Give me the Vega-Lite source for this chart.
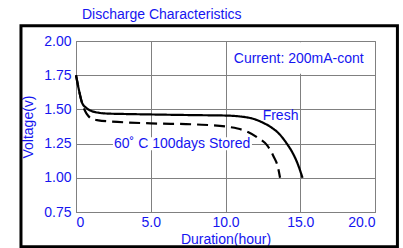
{
  "$schema": "https://vega.github.io/schema/vega-lite/v6.json",
  "autosize": "none",
  "width": 299,
  "height": 171,
  "padding": {"left": 76, "top": 41, "right": 28, "bottom": 36},
  "background": "white",
  "title": {
    "text": "Discharge Characteristics",
    "color": "#1515f0",
    "font": "Liberation Sans",
    "fontSize": 14,
    "fontWeight": "normal",
    "anchor": "start",
    "frame": "group",
    "dx": 6,
    "baseline": "alphabetic",
    "offset": -9
  },
  "config": {
    "view": {"stroke": "#808080", "strokeWidth": 1},
    "axis": {
      "labelFont": "Liberation Sans",
      "labelFontSize": 14,
      "labelColor": "#1515f0",
      "labelOverlap": false,
      "titleFont": "Liberation Sans",
      "titleFontSize": 14,
      "titleFontWeight": "normal",
      "titleColor": "#1515f0",
      "domainColor": "#808080",
      "gridColor": "#808080",
      "gridOpacity": 1,
      "gridWidth": 1,
      "ticks": false
    }
  },
  "datasets": {
    "curves": [
      {"series": "Fresh", "hours": 0, "voltage": 1.75},
      {"series": "Fresh", "hours": 0.2, "voltage": 1.64},
      {"series": "Fresh", "hours": 0.4, "voltage": 1.55},
      {"series": "Fresh", "hours": 0.7, "voltage": 1.51},
      {"series": "Fresh", "hours": 1.0, "voltage": 1.49},
      {"series": "Fresh", "hours": 1.5, "voltage": 1.476},
      {"series": "Fresh", "hours": 2.0, "voltage": 1.47},
      {"series": "Fresh", "hours": 3.0, "voltage": 1.467},
      {"series": "Fresh", "hours": 5.0, "voltage": 1.463},
      {"series": "Fresh", "hours": 8.0, "voltage": 1.458},
      {"series": "Fresh", "hours": 10.0, "voltage": 1.455},
      {"series": "Fresh", "hours": 11.0, "voltage": 1.448},
      {"series": "Fresh", "hours": 11.8, "voltage": 1.433},
      {"series": "Fresh", "hours": 12.5, "voltage": 1.403},
      {"series": "Fresh", "hours": 13.0, "voltage": 1.373},
      {"series": "Fresh", "hours": 13.6, "voltage": 1.32},
      {"series": "Fresh", "hours": 14.1, "voltage": 1.25},
      {"series": "Fresh", "hours": 14.5, "voltage": 1.18},
      {"series": "Fresh", "hours": 14.8, "voltage": 1.11},
      {"series": "Fresh", "hours": 15.0, "voltage": 1.05},
      {"series": "Fresh", "hours": 15.15, "voltage": 1.0},
      {"series": "Stored", "hours": 0, "voltage": 1.75},
      {"series": "Stored", "hours": 0.2, "voltage": 1.64},
      {"series": "Stored", "hours": 0.4, "voltage": 1.55},
      {"series": "Stored", "hours": 0.6, "voltage": 1.49},
      {"series": "Stored", "hours": 0.8, "voltage": 1.455},
      {"series": "Stored", "hours": 1.0, "voltage": 1.435},
      {"series": "Stored", "hours": 1.5, "voltage": 1.42},
      {"series": "Stored", "hours": 2.3, "voltage": 1.412},
      {"series": "Stored", "hours": 5.0, "voltage": 1.398},
      {"series": "Stored", "hours": 8.0, "voltage": 1.39},
      {"series": "Stored", "hours": 10.0, "voltage": 1.375},
      {"series": "Stored", "hours": 10.8, "voltage": 1.36},
      {"series": "Stored", "hours": 11.5, "voltage": 1.335},
      {"series": "Stored", "hours": 12.2, "voltage": 1.29},
      {"series": "Stored", "hours": 12.8, "voltage": 1.235},
      {"series": "Stored", "hours": 13.2, "voltage": 1.16},
      {"series": "Stored", "hours": 13.5, "voltage": 1.08},
      {"series": "Stored", "hours": 13.65, "voltage": 1.0}
    ],
    "boxes": [
      {"x1": 10.3, "x2": 19.8, "y1": 1.76, "y2": 1.99},
      {"x1": 2.47, "x2": 11.77, "y1": 1.201, "y2": 1.296}
    ],
    "labels": [
      {"text": "Current: 200mA-cont", "hours": 14.9, "voltage": 1.866},
      {"text": "60˚ C 100days Stored", "hours": 7.1, "voltage": 1.25},
      {"text": "Fresh", "hours": 13.68, "voltage": 1.45}
    ]
  },
  "layer": [
    {
      "data": {"name": "boxes"},
      "mark": {"type": "rect", "fill": "white", "stroke": null},
      "encoding": {
        "x": {"field": "x1", "type": "quantitative", "scale": {"domain": [0, 20], "nice": false, "zero": false},
              "axis": {"values": [0, 5, 10, 15, 20], "tickCount": 10, "title": "Duration(hour)", "labelExpr": "datum.value == 0 ? '0' : format(datum.value, '.1f')", "labelPadding": 3, "titlePadding": 3}},
        "x2": {"field": "x2"},
        "y": {"field": "y1", "type": "quantitative", "scale": {"domain": [0.75, 2], "nice": false, "zero": false},
              "axis": {"values": [0.75, 1, 1.25, 1.5, 1.75, 2], "tickCount": 10, "format": ".2f", "title": "Voltage(v)", "labelPadding": 5, "titlePadding": 8}},
        "y2": {"field": "y2"}
      }
    },
    {
      "data": {"name": "curves"},
      "mark": {"type": "line", "color": "black", "strokeWidth": 2.2, "interpolate": "monotone"},
      "encoding": {
        "x": {"field": "hours", "type": "quantitative"},
        "y": {"field": "voltage", "type": "quantitative"},
        "detail": {"field": "series"},
        "strokeDash": {"field": "series", "type": "nominal", "scale": {"domain": ["Fresh", "Stored"], "range": [[1, 0], [11, 6]]}, "legend": null}
      }
    },
    {
      "data": {"name": "labels"},
      "mark": {"type": "text", "font": "Liberation Sans", "fontSize": 14, "color": "#1515f0", "align": "center", "baseline": "middle"},
      "encoding": {
        "x": {"field": "hours", "type": "quantitative"},
        "y": {"field": "voltage", "type": "quantitative"},
        "text": {"field": "text"}
      }
    },
    {
      "data": {"values": [{}]},
      "mark": {"type": "rect", "fill": null, "stroke": "black", "strokeWidth": 3, "clip": false},
      "encoding": {
        "x": {"datum": -3.68},
        "x2": {"datum": 21.5},
        "y": {"datum": 2.111},
        "y2": {"datum": 0.496}
      }
    }
  ]
}
